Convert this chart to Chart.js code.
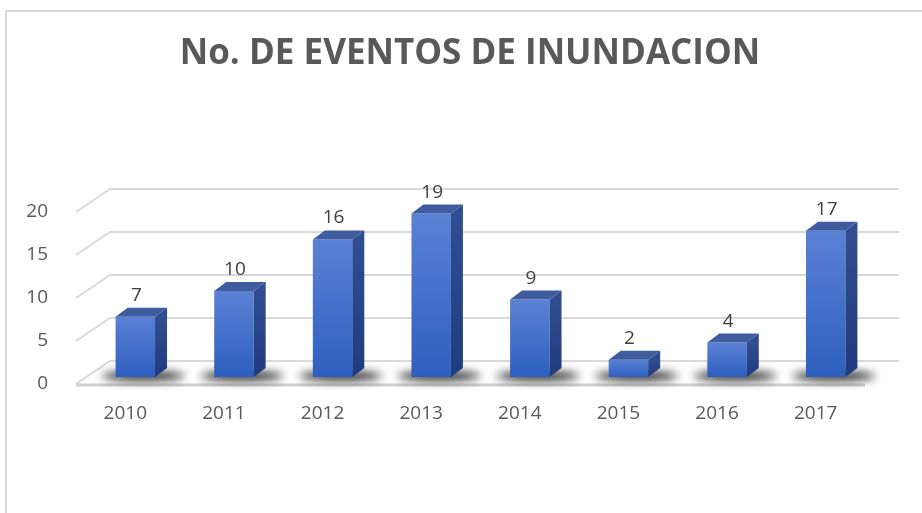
<!DOCTYPE html>
<html>
<head>
<meta charset="utf-8">
<script src="https://cdn.jsdelivr.net/npm/chart.js@4.4.1/dist/chart.umd.min.js"></script>
<style>
  html, body { margin: 0; padding: 0; background: #fff; }
  #wrap { position: relative; width: 922px; height: 513px; }
  #frame { position: absolute; left: 5px; top: 10px; width: 1000px; height: 1000px;
           border: 2px solid #d9d9d9; pointer-events: none; }
</style>
</head>
<body>
<div id="wrap">
  <canvas id="chart-eventos" width="922" height="513"></canvas>
  <div id="frame"></div>
</div>
<script>
  // datos
  const anios = ['2010', '2011', '2012', '2013', '2014', '2015', '2016', '2017'];
  const eventos = [7, 10, 16, 19, 9, 2, 4, 17];
  const tituloGrafico = 'No. DE EVENTOS DE INUNDACION';

  // desplazamientos del efecto 3D
  const fondo = { dx: 34, dy: -23 };   // pared del fondo
  const barra = { dx: 10, dy: -7 };    // plano de las barras
  const prof = { dx: 12, dy: -9 };     // profundidad de cada barra

  const efecto3D = {
    id: 'efecto3D',
    beforeDatasetsDraw(chart) {
      const ctx = chart.ctx;
      const area = chart.chartArea;
      const y = chart.scales.y;
      ctx.save();
      // lineas de division (pared y lateral)
      ctx.strokeStyle = '#d9d9d9';
      ctx.lineWidth = 2;
      y.ticks.forEach(t => {
        const py = y.getPixelForValue(t.value);
        ctx.beginPath();
        ctx.moveTo(area.left, py);
        ctx.lineTo(area.left + fondo.dx, py + fondo.dy);
        ctx.lineTo(area.right + fondo.dx, py + fondo.dy);
        ctx.stroke();
      });
      // borde frontal del piso
      ctx.strokeStyle = '#d0d0d0';
      ctx.lineWidth = 3;
      ctx.beginPath();
      ctx.moveTo(area.left, area.bottom + 1);
      ctx.lineTo(area.right, area.bottom + 1);
      ctx.stroke();
      // sombras
      const meta = chart.getDatasetMeta(0);
      ctx.filter = 'blur(5px)';
      ctx.fillStyle = 'rgba(0,0,0,0.9)';
      meta.data.forEach(b => {
        const cx = b.x + barra.dx + 8;
        const cy = b.base + barra.dy - 1;
        ctx.beginPath();
        ctx.ellipse(cx, cy, b.width * 1.05, 4.5, 0, 0, Math.PI * 2);
        ctx.fill();
      });
      ctx.filter = 'none';
      ctx.restore();
      ctx.save();
      ctx.translate(barra.dx, barra.dy);
    },
    afterDatasetsDraw(chart) {
      const ctx = chart.ctx;
      ctx.restore();
      const meta = chart.getDatasetMeta(0);
      ctx.save();
      meta.data.forEach((b, i) => {
        const l = b.x - b.width / 2 + barra.dx;
        const r = b.x + b.width / 2 + barra.dx;
        const t = b.y + barra.dy;
        const bot = b.base + barra.dy;
        // cara lateral
        const gl = ctx.createLinearGradient(0, t, 0, bot);
        gl.addColorStop(0, '#2f4d90');
        gl.addColorStop(1, '#1e3c7f');
        ctx.fillStyle = gl;
        ctx.beginPath();
        ctx.moveTo(r, t);
        ctx.lineTo(r + prof.dx, t + prof.dy);
        ctx.lineTo(r + prof.dx, bot + prof.dy);
        ctx.lineTo(r, bot);
        ctx.closePath();
        ctx.fill();
        // cara superior
        ctx.fillStyle = '#3f5c9f';
        ctx.beginPath();
        ctx.moveTo(l, t);
        ctx.lineTo(l + prof.dx, t + prof.dy);
        ctx.lineTo(r + prof.dx, t + prof.dy);
        ctx.lineTo(r, t);
        ctx.closePath();
        ctx.fill();
        // etiqueta de datos
        ctx.fillStyle = '#404040';
        ctx.font = '19px "Open Sans"';
        ctx.textAlign = 'center';
        ctx.textBaseline = 'alphabetic';
        ctx.fillText(String(eventos[i]), b.x + barra.dx + 1, t + prof.dy - 7);
      });
      ctx.restore();
    }
  };

  const ctxC = document.getElementById('chart-eventos').getContext('2d');

  new Chart(ctxC, {
    type: 'bar',
    data: {
      labels: anios,
      datasets: [{
        data: eventos,
        label: 'Eventos',
        backgroundColor: (c) => {
          const ch = c.chart;
          if (!ch.chartArea || !ch.scales.y || c.raw === undefined) return '#4a72c8';
          const top = ch.scales.y.getPixelForValue(c.raw);
          const base = ch.scales.y.getPixelForValue(0);
          const g = ctxC.createLinearGradient(0, top, 0, base);
          g.addColorStop(0, '#5b81d4');
          g.addColorStop(1, '#2d5fbf');
          return g;
        },
        borderWidth: 0,
        barPercentage: 0.4,
        categoryPercentage: 1
      }]
    },
    options: {
      responsive: false,
      animation: false,
      layout: { padding: { left: 18, right: 0, top: 0, bottom: 0 } },
      plugins: {
        legend: { display: false },
        tooltip: { enabled: false },
        title: {
          display: true,
          text: tituloGrafico,
          color: '#595959',
          font: { family: '"Open Sans"', size: 35, weight: 'bold', lineHeight: 1.2 },
          padding: { top: 33, bottom: 137 }
        }
      },
      scales: {
        x: {
          grid: { display: false },
          border: { display: false },
          ticks: { color: '#595959', font: { family: '"Open Sans"', size: 19 }, padding: 10 },
          afterFit(s) { s.height = 129; }
        },
        y: {
          min: 0,
          max: 20,
          grid: { display: false },
          border: { display: false },
          ticks: { stepSize: 5, color: '#595959', font: { family: '"Open Sans"', size: 19 }, padding: 20 },
          afterFit(s) { s.width = 58; }
        },
        y2: {
          position: 'right',
          display: true,
          grid: { display: false },
          border: { display: false },
          ticks: { display: false },
          afterFit(s) { s.width = 57; }
        }
      }
    },
    plugins: [efecto3D]
  });
</script>
</body>
</html>
